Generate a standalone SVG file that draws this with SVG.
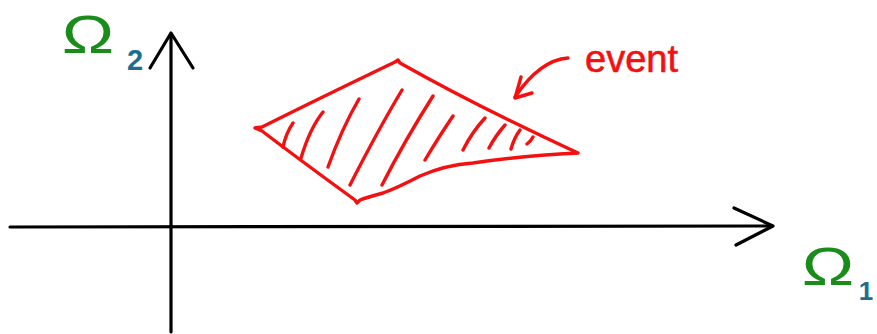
<svg xmlns="http://www.w3.org/2000/svg" width="877" height="334" viewBox="0 0 877 334">
<style>
.ax{fill:none;stroke:#000;stroke-width:3.2;stroke-linecap:round;stroke-linejoin:round}
.rd{fill:none;stroke:#f41010;stroke-width:3.4;stroke-linecap:round;stroke-linejoin:round}
.om{font-family:"Liberation Sans",Arial,sans-serif;fill:#1a8c1a;text-anchor:middle}
.sub{font-family:"Liberation Sans",Arial,sans-serif;font-weight:bold;fill:#1d6e8e;text-anchor:middle}
.ev{font-family:"Liberation Sans",Arial,sans-serif;fill:#f41010;stroke:#f41010;stroke-width:0.6}
</style>
<rect width="877" height="334" fill="#fff"/>
<g id="axes">
<path class="ax" d="M171,332 L171,34"/>
<path class="ax" d="M150,68 L171,33 L193,68"/>
<path class="ax" d="M10,227 L772,226"/>
<path class="ax" d="M734,208 L773,226 L736,245"/>
</g>
<g id="omega2">
<text class="om" font-size="54" transform="translate(88,53) scale(1.3,1)">Ω</text>
<text class="sub" x="135" y="70" font-size="29">2</text>
</g>
<g id="omega1">
<text class="om" font-size="54" transform="translate(828,285) scale(1.3,1)">Ω</text>
<text class="sub" x="866" y="300" font-size="26">1</text>
</g>
<g id="event-region">
<path class="rd" d="M255,128 L262,127 Q320,98 395,62 L398,60 L400,63 Q480,108 578,153 Q520,156 473,163 Q445,165 420,176 Q397,188 383,193 Q365,198 360,200 L357,203 L355,200 Q300,160 262,131 Z"/>
<path class="rd" d="M293,123 Q286,133 283,147 M323,112 Q310,128 301,158 M359,99 Q342,128 328,167 M402,90 Q378,130 350,185 M433,96 Q405,140 382,185 M453,116 Q440,135 425,160 M485,118 Q472,132 463,150 M505,125 Q496,135 489,148 M520,130 Q514,138 511,149 M533,137 Q531,141 527,144"/>
</g>
<g id="event-label">
<path class="rd" d="M568,58 Q540,60 515,97"/>
<path class="rd" d="M521,77 L515,98 L532,93"/>
<text class="ev" x="585" y="72" font-size="38">event</text>
</g>
</svg>
